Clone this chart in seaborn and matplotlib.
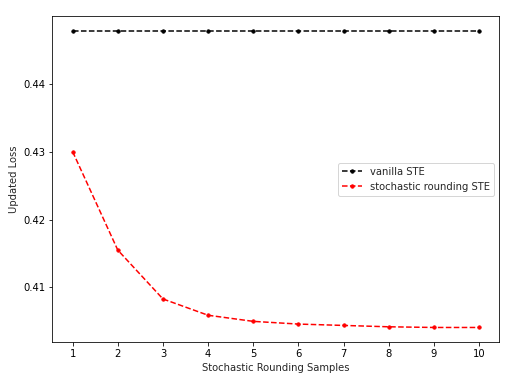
import numpy as np
import pandas as pd
import matplotlib
matplotlib.use("Agg")
import matplotlib.pyplot as plt
import seaborn as sns

sns.set_style("ticks")
plt.rcParams["font.family"] = ["DejaVu Sans"]

# data
samples = [1, 2, 3, 4, 5, 6, 7, 8, 9, 10]
vanilla_ste = [0.4478] * 10
stochastic_ste = [0.4300, 0.4155, 0.4083, 0.4059, 0.4050, 0.4046, 0.4044, 0.4042, 0.4041, 0.4041]

fig, ax = plt.subplots(figsize=(515 / 72, 375 / 72), dpi=72)
fig.subplots_adjust(left=0.1016, right=0.9695, top=0.9573, bottom=0.0872)

sns.lineplot(x=samples, y=vanilla_ste, ax=ax, color="black", linestyle="--",
             marker=".", markersize=7, markeredgecolor="black", label="vanilla STE")
sns.lineplot(x=samples, y=stochastic_ste, ax=ax, color="red", linestyle="--",
             marker=".", markersize=7, markeredgecolor="red", label="stochastic rounding STE")

ax.set_xticks(samples)
ax.set_yticks([0.41, 0.42, 0.43, 0.44])
ax.set_xlabel("Stochastic Rounding Samples", fontsize=10)
ax.set_ylabel("Updated Loss", fontsize=10)
ax.tick_params(colors="black", labelsize=10, length=3.5, width=0.8)
for s in ax.spines.values():
    s.set_color("black")
    s.set_linewidth(0.8)

ax.legend(loc="center right", fontsize=10, frameon=True)

fig.savefig("out.png", dpi=72)
